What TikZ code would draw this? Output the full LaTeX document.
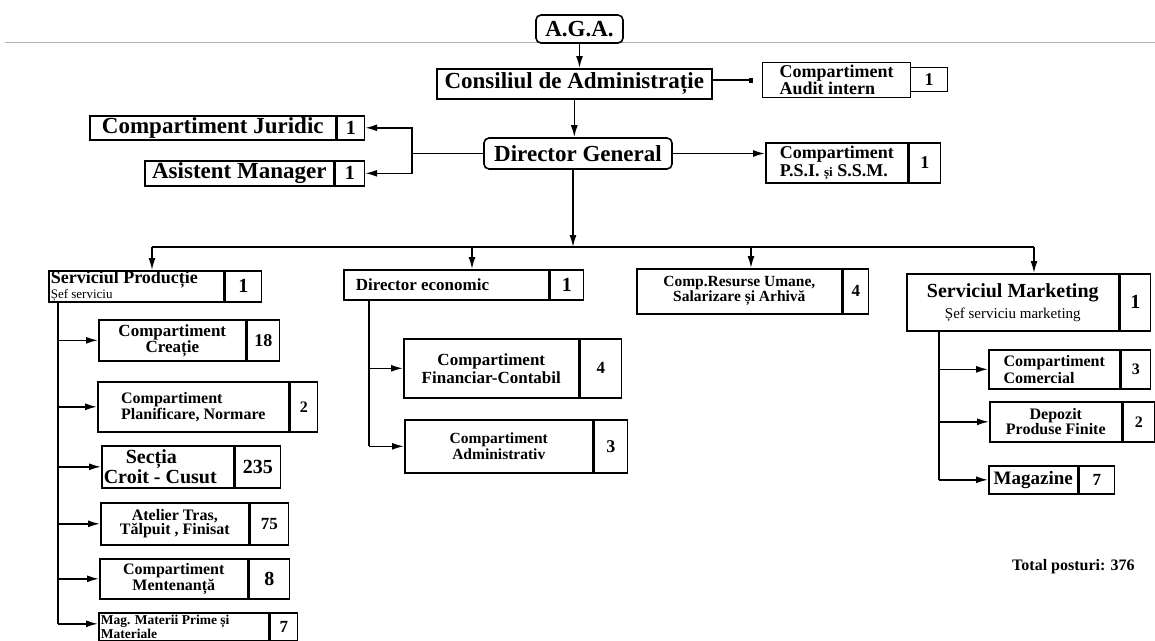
\documentclass[tikz,border=0pt]{standalone}
\usepackage{fontspec}
\setmainfont{Liberation Serif}
\usetikzlibrary{arrows.meta}
\newcommand{\txtsize}[2]{\fontsize{#1}{#2}\selectfont\bfseries}
\tikzstyle{cell}=[draw, line width=1.6pt, inner xsep=2pt, inner ysep=0pt, anchor=north west, align=center]
\tikzstyle{num}=[cell, font=\txtsize{18}{18}]
\tikzstyle{boss}=[draw, line width=1.6pt, rounded corners=5pt, fill=white, inner sep=1pt]
\tikzstyle{link}=[line width=1.6pt]

\begin{document}
\begin{tikzpicture}[x=1pt, y=-1pt, >={Latex[length=12pt,width=7pt]}]
\useasboundingbox (0,0) rectangle (1155,640);
\draw[gray!60, line width=1pt] (5,42) -- (1155,42);

% top of the chart
\node[boss, minimum width=87, minimum height=28, font=\txtsize{23}{23}] (aga) at (579.5,29) {A.G.A.};
\node[cell, minimum width=275, minimum height=30, font=\txtsize{23}{23}] (cons) at (436,68) {Consiliul de Administrație};
\node[cell, line width=1.2pt, minimum width=148, minimum height=35, align=left, font=\txtsize{18}{17}] (audit) at (762,62) {Compartiment\\Audit intern};
\node[num, line width=1.2pt, minimum width=37, minimum height=24] (auditn) at (910,67) {1};
\node[boss, minimum width=188, minimum height=31, font=\txtsize{23}{23}] (dg) at (578,153.5) {Director General};
\draw[link,->] (aga.south) -- (aga.south |- cons.north);
\draw[link,->] (cons.south) -- (cons.south |- dg.north);
\draw[link, -{Rectangle[length=4pt,width=5pt]}, shorten >=9pt] (cons.east |- audit.west) -- (audit.west);

% staff of the director
\node[cell, minimum width=246, minimum height=24, font=\txtsize{23}{23}] (jur) at (89,115) {Compartiment Juridic};
\node[num, minimum width=27, minimum height=24, font=\txtsize{20}{20}] (jurn) at (jur.north east) {1};
\node[cell, minimum width=189, minimum height=25, font=\txtsize{23}{23}] (asis) at (144,160) {Asistent Manager};
\node[num, minimum width=29, minimum height=25, font=\txtsize{20}{20}] (asisn) at (asis.north east) {1};
\coordinate (fork) at ([xshift=-71pt]dg.west);
\draw[link] (dg.west) -- (fork);
\draw[link,->] (fork) |- (jurn.east);
\draw[link,->] (fork) |- (asisn.east);
\node[cell, minimum width=142, minimum height=40, align=left, font=\txtsize{18}{18}] (psi) at (765,142) {Compartiment\\P.S.I. {\fontsize{13}{18}\selectfont și} S.S.M.};
\node[num, minimum width=31, minimum height=40] (psin) at (psi.north east) {1};
\draw[link,->] (dg.east) -- (dg.east -| psi.west);

% second level
\node[cell, minimum height=31, text width=171, align=flush left, font=\txtsize{18}{12}] (prod) at (48,270) {Serviciul Producție\\{\fontsize{13}{12}\selectfont\mdseries Șef serviciu}};
\node[num, minimum width=36, minimum height=31, font=\txtsize{20}{20}] (prodn) at (prod.north east) {1};
\node[cell, minimum height=30, text width=201, align=flush left, font=\txtsize{17}{17}] (econ) at (343,269) {\hspace*{10pt}Director economic};
\node[num, minimum width=33, minimum height=30, font=\txtsize{20}{20}] (econn) at (econ.north east) {1};
\node[cell, minimum width=205, minimum height=45, font=\txtsize{15.5}{15}] (hr) at (636,268) {Comp.Resurse Umane,\\Salarizare și Arhivă};
\node[num, minimum width=25, minimum height=45, font=\txtsize{17}{17}] (hrn) at (hr.north east) {4};
\node[cell, minimum width=212, minimum height=57, font=\txtsize{20}{21}] (mkt) at (906,273) {Serviciul Marketing\\{\fontsize{15}{21}\selectfont\mdseries Șef serviciu marketing}};
\node[num, minimum width=30, minimum height=57, font=\txtsize{20}{20}] (mktn) at (mkt.north east) {1};

\coordinate (b0) at (573,247);
\coordinate (b1) at (152,247);
\coordinate (b2) at (472,247);
\coordinate (b3) at (751,247);
\coordinate (b4) at (1034,247);
\draw[link,->] (dg.south -| b0) -- (b0);
\draw[link] (b1) -- (b4);
\draw[link,->] (b1) -- (b1 |- prod.north);
\draw[link,->] (b2) -- (b2 |- econ.north);
\draw[link,->] (b3) -- (b3 |- hr.north);
\draw[link,->] (b4) -- (b4 |- mkt.north);

% production
\node[cell, minimum width=147, minimum height=41, font=\txtsize{17}{16}] (crea) at (98,319) {Compartiment\\Creație};
\node[num, minimum width=32, minimum height=41] (crean) at (crea.north east) {18};
\node[cell, minimum width=191, minimum height=50, align=left, font=\txtsize{16}{16}] (plan) at (97,381) {Compartiment\\Planificare, Normare};
\node[num, minimum width=27, minimum height=50, font=\txtsize{16}{16}] (plann) at (plan.north east) {2};
\node[cell, minimum height=42, text width=128, align=flush left, font=\txtsize{20}{16}] (sect) at (101,445) {\hspace*{22pt}Secția\\Croit - Cusut};
\node[num, minimum width=45, minimum height=42, font=\txtsize{20}{20}] (sectn) at (sect.north east) {235};
\node[cell, minimum width=148, minimum height=42, font=\txtsize{16}{14}] (atel) at (100,502) {Atelier Tras,\\Tălpuit , Finisat};
\node[num, minimum width=38, minimum height=42, font=\txtsize{17}{17}] (ateln) at (atel.north east) {75};
\node[cell, minimum width=148, minimum height=40, font=\txtsize{16}{14}] (ment) at (99,558) {Compartiment\\Mentenanță};
\node[num, minimum width=40, minimum height=40, font=\txtsize{20}{20}] (mentn) at (ment.north east) {8};
\node[cell, minimum height=28, text width=166, align=flush left, font=\txtsize{13.5}{12}] (mag) at (98,612) {Mag. Materii Prime și\\Materiale};
\node[num, minimum width=27, minimum height=28, font=\txtsize{17}{17}] (magn) at (mag.north east) {7};
\coordinate (pl) at ([xshift=10pt]prod.south west);
\coordinate (magin) at ([yshift=3pt]mag.west);
\draw[link] (pl) -- (pl |- magin);
\draw[link,->] (pl |- crea.west) -- (crea.west);
\draw[link,->] (pl |- plan.west) -- (plan.west);
\draw[link,->] (pl |- sect.west) -- (sect.west);
\draw[link,->] (pl |- atel.west) -- (atel.west);
\draw[link,->] (pl |- ment.west) -- (ment.west);
\draw[link,->] (pl |- magin) -- (magin);

% economic
\node[cell, minimum width=175, minimum height=59, font=\txtsize{17}{18}] (fin) at (403,338) {Compartiment\\Financiar-Contabil};
\node[num, minimum width=41, minimum height=59, font=\txtsize{17}{17}] (finn) at (fin.north east) {4};
\node[cell, minimum width=188, minimum height=53, font=\txtsize{15.5}{16}] (adm) at (404,419) {Compartiment\\Administrativ};
\node[num, minimum width=33, minimum height=53] (admn) at (adm.north east) {3};
\coordinate (el) at ([xshift=26pt]econ.south west);
\draw[link] (el) -- (el |- adm.west);
\draw[link,->] (el |- fin.west) -- (fin.west);
\draw[link,->] (el |- adm.west) -- (adm.west);

% marketing
\node[cell, minimum width=131, minimum height=39, align=left, font=\txtsize{16}{17}] (com) at (988,349) {Compartiment\\Comercial};
\node[num, minimum width=29, minimum height=39, font=\txtsize{16}{16}] (comn) at (com.north east) {3};
\node[cell, minimum width=132, minimum height=40, font=\txtsize{16}{15}] (dep) at (989,401) {Depozit\\Produse Finite};
\node[num, minimum width=31, minimum height=40, font=\txtsize{16}{16}] (depn) at (dep.north east) {2};
\node[cell, minimum width=89, minimum height=28, font=\txtsize{19}{19}] (magz) at (988,465) {Magazine};
\node[num, minimum width=35, minimum height=28, font=\txtsize{17}{17}] (magzn) at (magz.north east) {7};
\coordinate (ml) at ([xshift=33pt]mkt.south west);
\draw[link] (ml) -- (ml |- magz.west);
\draw[link,->] (ml |- com.west) -- (com.west);
\draw[link,->] (ml |- dep.west) -- (dep.west);
\draw[link,->] (ml |- magz.west) -- (magz.west);

\node[anchor=west, inner sep=0pt, font=\txtsize{16}{16}] (total) at (1012,567) {Total posturi: 376};
\end{tikzpicture}
\end{document}
